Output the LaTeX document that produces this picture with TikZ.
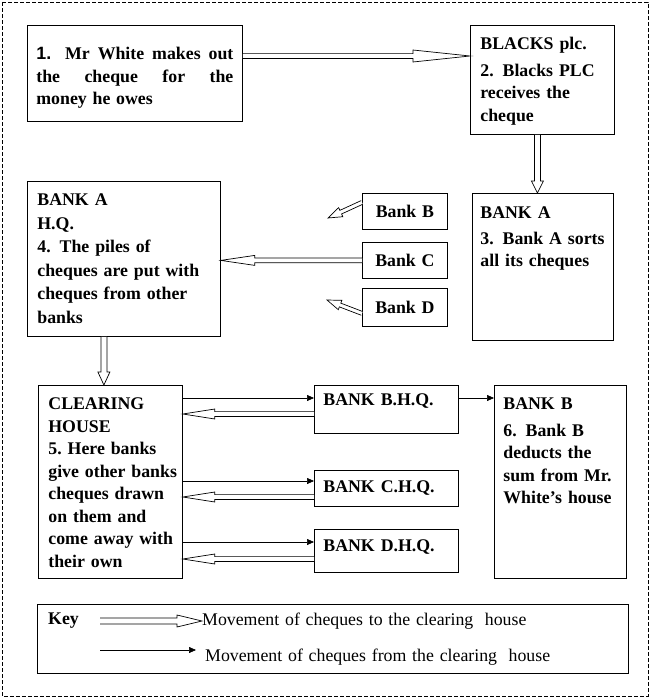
\documentclass[tikz,border=0pt]{standalone}
\usepackage{fontspec}
\setmainfont{Liberation Serif}[WordSpace=1.3]
\setsansfont{Liberation Sans}
\usetikzlibrary{arrows.meta,calc,positioning}

\newcommand{\boxfont}{\fontsize{17.8}{22.5}\selectfont\bfseries}
\newcommand{\keyfont}{\fontsize{17.8}{22.5}\selectfont}

\begin{document}
\begin{tikzpicture}[
  x=1pt, y=-1pt,
  block/.style={rectangle, draw, line width=0.8pt, anchor=north west, align=left, text height=11.5pt, font=\boxfont},
  bank/.style={rectangle, draw, line width=0.8pt, anchor=north west, minimum width=85pt, inner sep=0pt, font=\boxfont},
  hollow/.style n args={3}{draw, fill=white, line width=0.7pt, line join=miter,
    to path={($(\tikztostart)!#3!-90:(\tikztotarget)$)
      -- ($(\tikztotarget)!#1!(\tikztostart)!#3!-90:(\tikztotarget)$)
      -- ($(\tikztotarget)!#1!(\tikztostart)!#2!-90:(\tikztotarget)$)
      -- (\tikztotarget)
      -- ($(\tikztotarget)!#1!(\tikztostart)!#2!90:(\tikztotarget)$)
      -- ($(\tikztotarget)!#1!(\tikztostart)!#3!90:(\tikztotarget)$)
      -- ($(\tikztostart)!#3!90:(\tikztotarget)$)}},
  flow/.style={line width=0.6pt, -{Triangle[length=7pt, width=6pt]}}
]
\useasboundingbox (0,0) rectangle (651,699);
\draw[line width=0.8pt, dash pattern=on 4pt off 2pt] (2,2) rectangle (648,696);

% Step boxes
\node[block, align=justify, text width=197pt, inner xsep=9pt, inner ysep=23pt, text depth=38.5pt] (white) at (27,25) {{\sffamily 1.} Mr White makes out\linebreak the cheque for the\linebreak money he owes};
\node[block, text width=124pt, inner xsep=10pt, inner ysep=13pt, text depth=71.5pt] (blacks) at (470,25) {BLACKS plc.\\[4pt] 2. Blacks PLC\\ receives the\\ cheque};
\node[block, text width=125pt, inner xsep=8pt, inner ysep=14pt, text depth=107.5pt] (bankA) at (472,193) {BANK A\\[3pt] 3. Bank A sorts\\ all its cheques};
\node[block, text width=173pt, inner xsep=10pt, inner ysep=13pt, text depth=117.5pt] (bankAHQ) at (27,181) {BANK A\\[1pt] H.Q.\\[1pt] 4. The piles of\\[1pt] cheques are put with\\[1pt] cheques from other\\[1pt] banks};

\node[bank, minimum height=36pt] (bankB) at (362,193) {Bank B};
\node[bank, minimum height=36pt] (bankC) at (362,242) {Bank C};
\node[bank, minimum height=38pt] (bankD) at (362,288) {Bank D};

\node[block, text width=124pt, inner xsep=10pt, inner ysep=13pt, text depth=155.5pt] (clearing) at (38,385) {CLEARING\\ HOUSE\\ 5.~Here~banks\\ give~other~banks\\ cheques~drawn\\ on~them~and\\ come~away~with\\ their~own};

\node[block, text width=126pt, inner xsep=9pt, inner ysep=9pt, text depth=18.5pt] (bbhq) at (314,385) {BANK B.H.Q.};
\node[block, text width=126pt, inner xsep=9pt, inner ysep=11pt, text depth=2.5pt] (bchq) at (314,470) {BANK C.H.Q.};
\node[block, text width=126pt, inner xsep=9pt, inner ysep=11pt, text depth=9.5pt] (bdhq) at (314,529) {BANK D.H.Q.};

\node[block, text width=114pt, inner xsep=9pt, inner ysep=13pt, text depth=155.5pt] (bankBend) at (494,385) {BANK B\\[4pt] 6. Bank B\\ deducts the\\ sum from Mr.\\ White's house};

% Key
\node[draw, line width=0.8pt, anchor=north west, minimum width=591pt, minimum height=69pt, inner sep=0pt] (keybox) at (37,604) {};
\node[anchor=west, inner sep=0pt, font=\boxfont] (keylabel) at (48,621) {Key};
\node[anchor=west, inner sep=0pt, font=\keyfont] (keyto) at (202,621) {Movement of cheques to the clearing\ \ house};
\node[anchor=west, inner sep=0pt, font=\keyfont] (keyfrom) at (205,657) {Movement of cheques from the clearing\ \ house};
\coordinate (keyA) at (100,621);
\coordinate (keyB) at (100,650);
\coordinate (keyC) at (196,650);
\coordinate (fromB) at (328,218);
\coordinate (fromD) at (327,300);

% Arrows to the clearing house
\draw[hollow={57pt}{6pt}{2.4pt}] ([yshift=-31pt]white.north east) to ([yshift=-31pt]white.north east -| blacks.west);
\draw[hollow={12pt}{6pt}{3pt}] ([xshift=-5pt]blacks.south) to ([xshift=-5pt]blacks.south |- bankA.north);
\draw[hollow={14pt}{5pt}{2pt}] ([yshift=9pt]bankB.west) to (fromB);
\draw[hollow={34pt}{5pt}{2.4pt}] (bankC.west) to (bankC.west -| bankAHQ.east);
\draw[hollow={14pt}{5pt}{2pt}] ([yshift=-6pt]bankD.west) to (fromD);
\draw[hollow={13pt}{6pt}{3pt}] ([xshift=-20pt]bankAHQ.south) to ([xshift=-20pt]bankAHQ.south |- clearing.north);
\draw[hollow={32pt}{5pt}{2.4pt}] ([yshift=-29pt]bbhq.north west) to ([yshift=-29pt]bbhq.north west -| clearing.east);
\draw[hollow={32pt}{5pt}{2.4pt}] ([yshift=-27pt]bchq.north west) to ([yshift=-27pt]bchq.north west -| clearing.east);
\draw[hollow={32pt}{5pt}{2.4pt}] ([yshift=-30pt]bdhq.north west) to ([yshift=-30pt]bdhq.north west -| clearing.east);
\draw[hollow={25pt}{6pt}{3pt}] (keyA) to (keyto.west);

% Arrows from the clearing house
\draw[flow] ([yshift=-13pt]bbhq.north west -| clearing.east) -- ([yshift=-13pt]bbhq.north west);
\draw[flow] ([yshift=-11pt]bchq.north west -| clearing.east) -- ([yshift=-11pt]bchq.north west);
\draw[flow] ([yshift=-13pt]bdhq.north west -| clearing.east) -- ([yshift=-13pt]bdhq.north west);
\draw[flow] ([yshift=-13pt]bbhq.north east) -- ([yshift=-13pt]bbhq.north east -| bankBend.west);
\draw[flow] (keyB) -- (keyC);

\end{tikzpicture}
\end{document}
